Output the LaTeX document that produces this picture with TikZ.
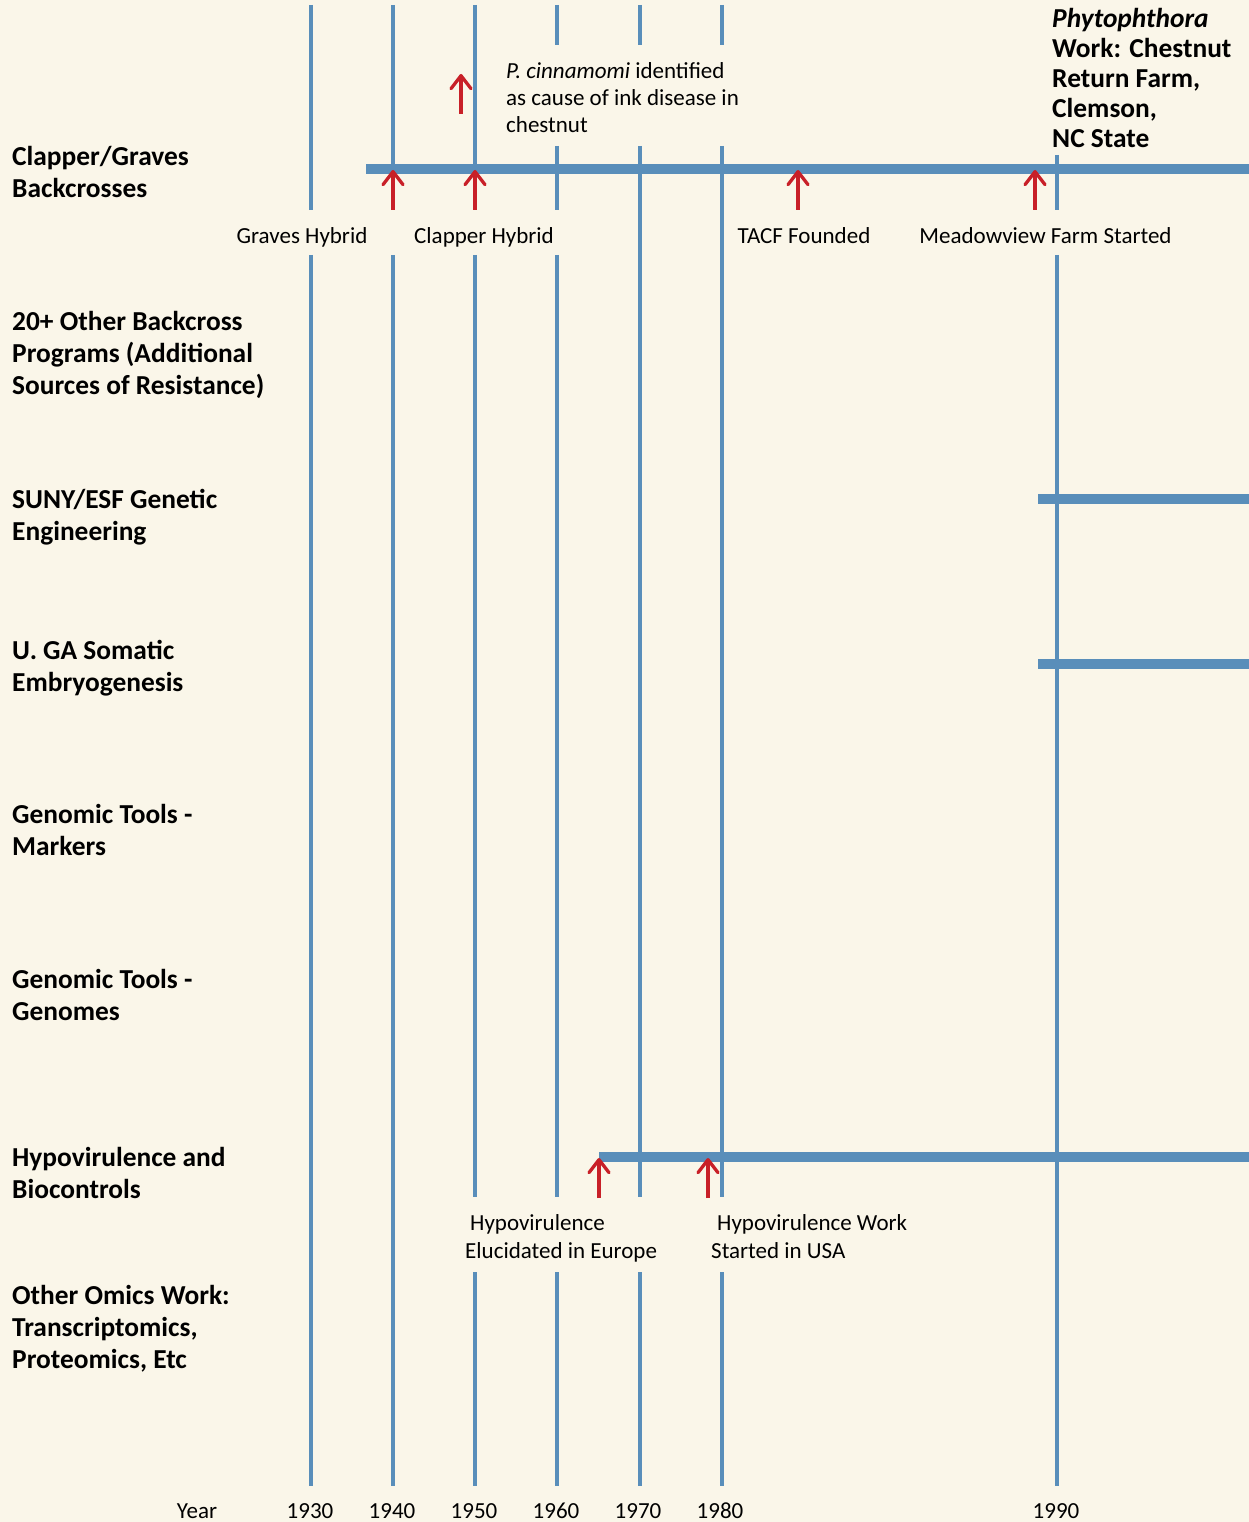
\documentclass[tikz,border=0pt]{standalone}
\usepackage{fontspec}
\setmainfont{Carlito}
\usetikzlibrary{arrows.meta}
\definecolor{bg}{RGB}{250,246,233}
\definecolor{tl}{RGB}{89,142,186}
\definecolor{ev}{RGB}{200,32,40}
\begin{document}
\begin{tikzpicture}[x=1pt,y=-1pt,
  gridline/.style={draw=tl,line width=3.7pt},
  bar/.style={draw=tl,line width=10pt},
  event/.style={draw=ev,line width=3.3pt,-{Straight Barb[length=13pt,width=20pt,round]}},
  rowlabel/.style={font=\fontsize{27.4}{32}\selectfont\bfseries,align=left,anchor=base west,inner sep=0pt},
  small/.style={font=\fontsize{23}{27}\selectfont,inner sep=0pt,anchor=base},
  ]
\fill[bg] (0,0) rectangle (1249,1522);
\useasboundingbox (0,0) rectangle (1249,1522);

% bars
\draw[bar] (366,169) -- (1249,169);
\draw[bar] (1038,498.5) -- (1249,498.5);
\draw[bar] (1038,663.5) -- (1249,663.5);
\draw[bar] (599,1157) -- (1249,1157);

% year grid lines
\draw[gridline] (311,5) -- (311,210) (311,255) -- (311,1486);
\draw[gridline] (393,5) -- (393,210) (393,255) -- (393,1486);
\draw[gridline] (475,5) -- (475,210) (475,255) -- (475,1197) (475,1272) -- (475,1486);
\draw[gridline] (557,5) -- (557,45) (557,146) -- (557,210) (557,255) -- (557,1197) (557,1272) -- (557,1486);
\draw[gridline] (640,5) -- (640,45) (640,146) -- (640,1197) (640,1272) -- (640,1486);
\draw[gridline] (722,5) -- (722,45) (722,146) -- (722,1197) (722,1272) -- (722,1486);
\draw[gridline] (1057,155) -- (1057,210) (1057,255) -- (1057,1486);

% event arrows
\draw[event] (393,210) -- (393,170);
\draw[event] (475,210) -- (475,170);
\draw[event] (798,210) -- (798,170);
\draw[event] (1035,210) -- (1035,170);
\draw[event] (461,114) -- (461,74);
\draw[event] (599,1198) -- (599,1158);
\draw[event] (708,1198) -- (708,1158);

% row labels (anchor = baseline of last line)
\node[rowlabel] (cg) at (12,197.5) {Clapper/Graves\\Backcrosses};
\node[rowlabel] (ob) at (12,394.5) {20+ Other Backcross\\Programs (Additional\\Sources of Resistance)};
\node[rowlabel] (su) at (12,540.5) {SUNY/ESF Genetic\\Engineering};
\node[rowlabel] (ga) at (12,691.5) {U. GA Somatic\\Embryogenesis};
\node[rowlabel] (gm) at (12,855.5) {Genomic Tools -\\Markers};
\node[rowlabel] (gg) at (12,1020.5) {Genomic Tools -\\Genomes};
\node[rowlabel] (hb) at (12,1198.5) {Hypovirulence and\\Biocontrols};
\node[rowlabel] (om) at (12,1368.5) {Other Omics Work:\\Transcriptomics,\\Proteomics, Etc};

% phytophthora
\node[rowlabel,font=\fontsize{27.4}{30}\selectfont\bfseries] (ph) at (1052,148) {\textit{Phytophthora}\\Work: Chestnut\\Return Farm,\\Clemson,\\NC State};

% event labels
\node[small,anchor=base west,align=left] (pc) at (506,133) {\textit{P. cinnamomi} identified\\as cause of ink disease in\\chestnut};
\node[small] (gh) at (302,243.5) {Graves Hybrid};
\node[small] (ch) at (484,243.5) {Clapper Hybrid};
\node[small] (tf) at (804,243.5) {TACF Founded};
\node[small] (mf) at (1045.5,243.5) {Meadowview Farm Started};
\node[small,font=\fontsize{23}{28}\selectfont,anchor=base west,align=left] (he) at (465,1258) {\hspace*{5pt}Hypovirulence\\Elucidated in Europe};
\node[small,font=\fontsize{23}{28}\selectfont,anchor=base west,align=left] (hw) at (711,1258) {\hspace*{6pt}Hypovirulence Work\\Started in USA};

% years
\node[small] (yr) at (197,1518) {Year};
\node[small] (y30) at (310,1518) {1930};
\node[small] (y40) at (392,1518) {1940};
\node[small] (y50) at (474,1518) {1950};
\node[small] (y60) at (556,1518) {1960};
\node[small] (y70) at (638,1518) {1970};
\node[small] (y80) at (720,1518) {1980};
\node[small] (y90) at (1056,1518) {1990};
\end{tikzpicture}
\end{document}
